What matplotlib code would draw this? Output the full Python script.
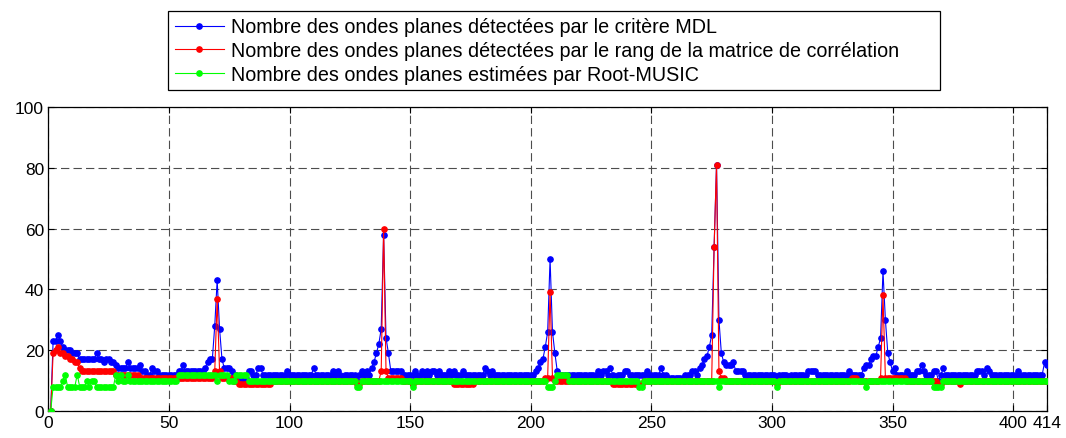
import numpy as np
import matplotlib
matplotlib.use("Agg")
import matplotlib.pyplot as plt

plt.rcParams['font.family'] = ['Liberation Sans', 'DejaVu Sans']
plt.rcParams['lines.scale_dashes'] = False

# --- Donnees (x = 1..414) ---
# Critere MDL (bleu), valeur par echantillon
mdl = [
    0, 23, 23, 25, 23, 21, 20, 20, 20, 19,
    19, 19, 17, 17, 17, 17, 17, 17, 17, 19,
    17, 17, 16, 17, 17, 16, 16, 15, 14, 14,
    14, 14, 16, 14, 14, 14, 14, 15, 13, 13,
    12, 12, 14, 13, 13, 12, 12, 12, 12, 12,
    12, 12, 12, 13, 13, 15, 13, 13, 13, 13,
    13, 13, 13, 13, 14, 16, 17, 17, 28, 43,
    27, 17, 14, 14, 14, 13, 12, 12, 11, 11,
    10, 11, 13, 13, 12, 12, 14, 14, 12, 12,
    12, 12, 12, 12, 12, 12, 12, 12, 13, 12,
    12, 12, 12, 12, 12, 12, 12, 12, 12, 14,
    12, 12, 12, 12, 12, 12, 12, 13, 12, 13,
    12, 11, 12, 12, 12, 12, 12, 10, 12, 13,
    12, 13, 12, 14, 16, 19, 22, 27, 58, 24,
    19, 13, 13, 13, 13, 13, 12, 12, 12, 12,
    12, 13, 12, 12, 13, 12, 13, 12, 13, 13,
    12, 13, 12, 12, 12, 13, 12, 13, 12, 12,
    12, 13, 12, 12, 12, 12, 12, 12, 12, 12,
    14, 13, 12, 13, 12, 12, 12, 12, 12, 12,
    12, 12, 12, 12, 12, 12, 12, 12, 12, 12,
    12, 13, 14, 16, 17, 21, 26, 50, 26, 19,
    13, 12, 12, 12, 12, 12, 12, 12, 12, 12,
    12, 12, 12, 12, 12, 12, 12, 13, 12, 13,
    13, 12, 14, 12, 11, 12, 12, 12, 13, 13,
    12, 12, 12, 12, 12, 12, 12, 13, 12, 12,
    12, 12, 12, 14, 12, 12, 11, 11, 11, 11,
    11, 11, 11, 12, 12, 12, 13, 13, 12, 14,
    15, 17, 18, 21, 25, 54, 81, 30, 19, 16,
    15, 15, 15, 16, 13, 13, 13, 13, 12, 12,
    12, 12, 12, 12, 12, 12, 12, 12, 12, 12,
    12, 11, 12, 12, 12, 12, 11, 12, 12, 12,
    12, 12, 12, 12, 13, 13, 13, 13, 12, 12,
    12, 12, 12, 12, 12, 12, 12, 12, 12, 12,
    12, 13, 12, 12, 12, 12, 12, 14, 15, 15,
    17, 18, 18, 21, 24, 46, 30, 19, 16, 13,
    14, 12, 12, 12, 12, 13, 12, 12, 12, 13,
    13, 15, 13, 12, 12, 12, 13, 13, 10, 12,
    14, 12, 12, 12, 12, 12, 12, 12, 12, 12,
    12, 12, 12, 12, 13, 13, 13, 12, 14, 13,
    12, 12, 12, 12, 12, 12, 12, 12, 12, 12,
    12, 13, 12, 12, 12, 12, 12, 12, 12, 12,
    12, 12, 16, 15,
]

# Rang de la matrice de correlation (rouge), en plages (valeur, nb d'echantillons)
rang_runs = [
    (0, 1), (19, 1), (20, 1), (21, 1), (19, 2), (18, 2), (17, 2), (16, 2),
    (14, 1), (13, 14), (12, 10), (11, 31), (13, 1), (37, 1), (13, 1),
    (11, 5), (10, 2), (9, 14), (10, 35), (9, 2), (10, 8), (13, 1), (60, 1),
    (13, 1), (11, 6), (10, 4), (9, 1), (10, 16), (9, 9), (10, 29), (11, 2),
    (39, 1), (11, 1), (10, 24), (9, 13), (10, 29), (54, 1), (81, 1),
    (13, 1), (11, 2), (10, 21), (9, 1), (10, 30), (11, 3), (10, 9),
    (11, 1), (38, 1), (11, 9), (10, 13), (9, 2), (10, 7), (9, 1), (10, 36),
]

# Root-MUSIC (vert), en plages (valeur, nb d'echantillons)
music_runs = [
    (0, 1), (8, 4), (10, 1), (12, 1), (8, 4), (12, 1), (8, 3), (10, 1),
    (8, 1), (10, 2), (8, 8), (12, 1), (10, 1), (12, 1), (10, 2), (12, 1),
    (10, 20), (12, 16), (10, 1), (12, 4), (10, 3), (12, 5), (10, 45),
    (8, 2), (10, 21), (8, 1), (10, 55), (8, 3), (10, 1), (12, 5), (10, 29),
    (8, 2), (10, 31), (8, 1), (10, 23), (8, 1), (10, 36), (8, 1), (10, 27),
    (8, 4), (10, 44),
]

labels = [
    'Nombre des ondes planes détectées par le critère MDL',
    'Nombre des ondes planes détectées par le rang de la matrice de corrélation',
    'Nombre des ondes planes estimées par Root-MUSIC',
]
xticks = [0, 50, 100, 150, 200, 250, 300, 350, 400, 414]
yticks = [0, 20, 40, 60, 80, 100]


def expand(runs):
    vals, counts = zip(*runs)
    return np.repeat(vals, counts)


rang = expand(rang_runs)
music = expand(music_runs)
n = np.arange(1, len(mdl) + 1)
assert len(mdl) == len(rang) == len(music) == 414

fig = plt.figure(figsize=(10.66, 4.39), dpi=100)
ax = fig.add_axes([0.0453, 0.0615, 0.9369, 0.6925])

style = dict(marker='o', markersize=3.8, linewidth=0.8)
h1, = ax.plot(n, mdl, color='#0000ff', zorder=3, **style)
h2, = ax.plot(n, rang, color='#ff0000', zorder=4, **style)
h3, = ax.plot(n, music, color='#00ff00', zorder=5, **style)

ax.set_xlim(0, 414)
ax.set_ylim(0, 100)
ax.set_xticks(xticks)
ax.set_yticks(yticks)
ax.tick_params(direction='in', top=True, right=True, length=4,
               labelsize=12.5, pad=3)
ax.grid(True, color='#4d4d4d', linestyle=(0, (6, 3)), linewidth=0.8)
for s in ax.spines.values():
    s.set_linewidth(0.9)

# legende au-dessus des axes, cadre noir etire a la largeur de l'original
leg = fig.legend([h1, h2, h3], labels, loc='upper left',
                 bbox_to_anchor=(0.1576, 0.7, 0.7242, 0.2727), mode='expand',
                 borderaxespad=0, fancybox=False, edgecolor='black',
                 framealpha=1, fontsize=14.2, handlelength=2.5,
                 handletextpad=0.36, labelspacing=0.24, borderpad=0.33)
leg.get_frame().set_linewidth(0.9)

fig.savefig('out.png', dpi=100)
